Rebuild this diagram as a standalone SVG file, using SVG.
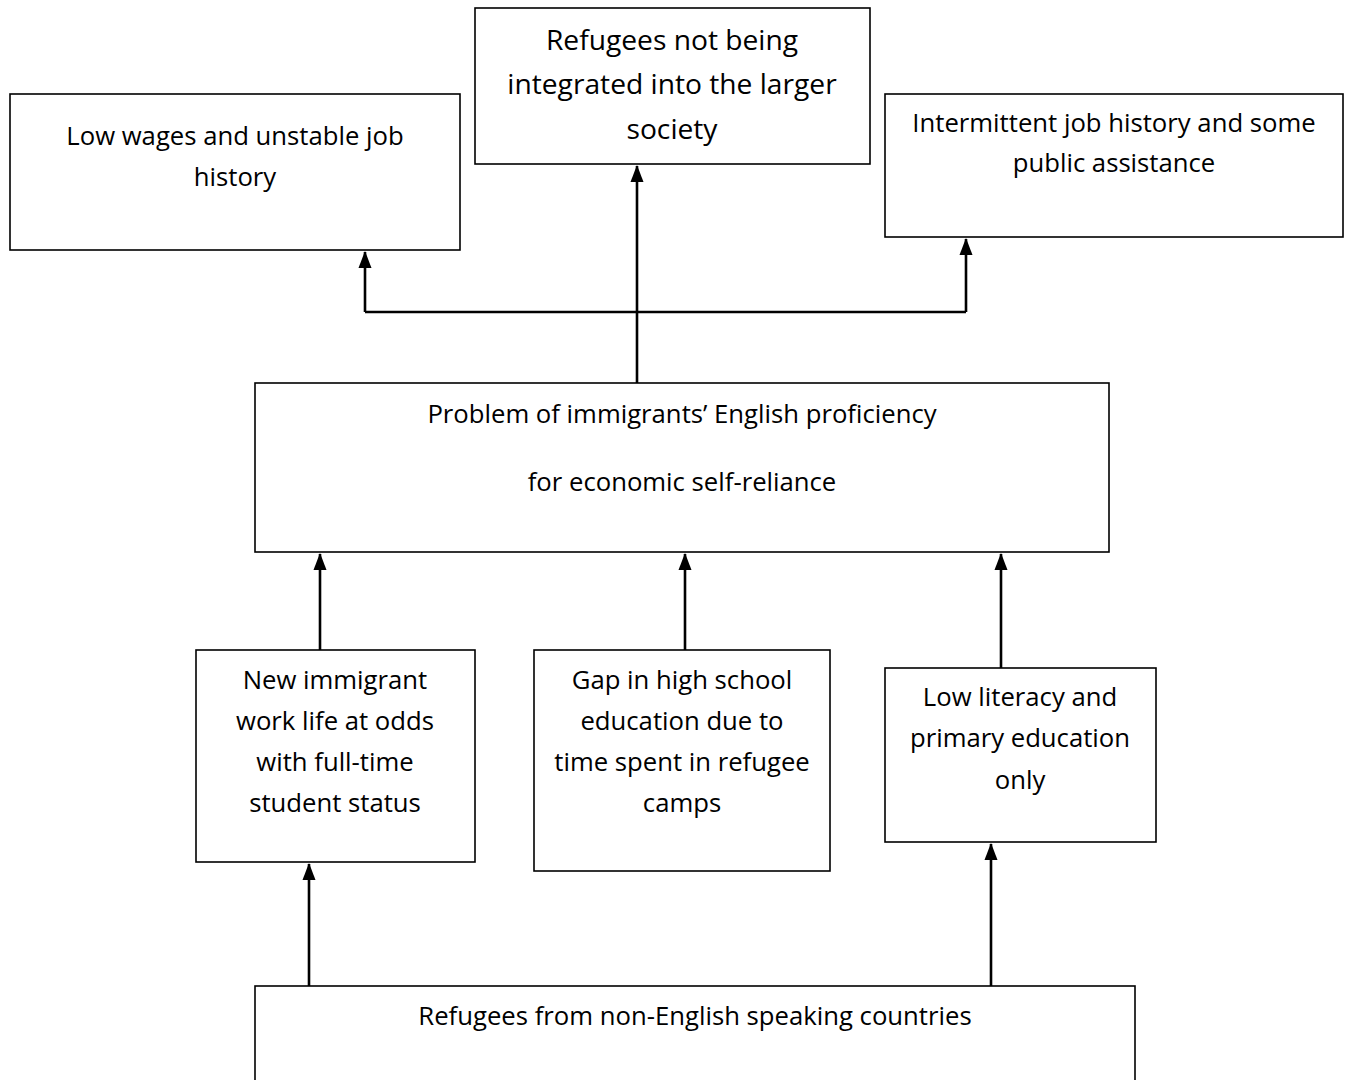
<svg xmlns="http://www.w3.org/2000/svg" width="1349" height="1080" viewBox="0 0 1349 1080">
<style>
.box{fill:#fff;stroke:#000;stroke-width:1.6}
.t{font-family:"Open Sans",Lato,sans-serif;font-size:25.7px;fill:#000;text-anchor:middle}
.big{font-size:28.2px}
.c{fill:none;stroke:#000;stroke-width:2.6}
</style>
<rect width="1349" height="1080" fill="#fff"/>
<g id="connectors">
<path class="c" d="M637 383 V166"/>
<path class="c" d="M365 312 H966"/>
<path class="c" d="M365 312 V252"/>
<path class="c" d="M966 312 V239"/>
<path class="c" d="M320 650 V554"/>
<path class="c" d="M685 650 V554"/>
<path class="c" d="M1001 668 V554"/>
<path class="c" d="M309 986 V864"/>
<path class="c" d="M991 986 V844"/>
<g fill="#000">
<path d="M637 165 L643.5 182 L630.5 182 Z"/>
<path d="M365 251 L371.5 268 L358.5 268 Z"/>
<path d="M966 238 L972.5 255 L959.5 255 Z"/>
<path d="M320 553 L326.5 570 L313.5 570 Z"/>
<path d="M685 553 L691.5 570 L678.5 570 Z"/>
<path d="M1001 553 L1007.5 570 L994.5 570 Z"/>
<path d="M309 863 L315.5 880 L302.5 880 Z"/>
<path d="M991 843 L997.5 860 L984.5 860 Z"/>
</g>
</g>
<g id="n-lowwages">
<rect class="box" x="10" y="94" width="450" height="156"/>
<text class="t" x="235" y="145">Low wages and unstable job</text>
<text class="t" x="235" y="186">history</text>
</g>
<g id="n-notintegrated">
<rect class="box" x="475" y="8" width="395" height="156"/>
<text class="t big" x="672" y="50">Refugees not being</text>
<text class="t big" x="672" y="94">integrated into the larger</text>
<text class="t big" x="672" y="139">society</text>
</g>
<g id="n-intermittent">
<rect class="box" x="885" y="94" width="458" height="143"/>
<text class="t" x="1114" y="132">Intermittent job history and some</text>
<text class="t" x="1114" y="172">public assistance</text>
</g>
<g id="n-problem">
<rect class="box" x="255" y="383" width="854" height="169"/>
<text class="t" x="682" y="423">Problem of immigrants’ English proficiency</text>
<text class="t" x="682" y="491">for economic self-reliance</text>
</g>
<g id="n-newimmigrant">
<rect class="box" x="196" y="650" width="279" height="212"/>
<text class="t" x="335" y="689">New immigrant</text>
<text class="t" x="335" y="730">work life at odds</text>
<text class="t" x="335" y="771">with full-time</text>
<text class="t" x="335" y="812">student status</text>
</g>
<g id="n-gap">
<rect class="box" x="534" y="650" width="296" height="221"/>
<text class="t" x="682" y="689">Gap in high school</text>
<text class="t" x="682" y="730">education due to</text>
<text class="t" x="682" y="771">time spent in refugee</text>
<text class="t" x="682" y="812">camps</text>
</g>
<g id="n-lowliteracy">
<rect class="box" x="885" y="668" width="271" height="174"/>
<text class="t" x="1020" y="706">Low literacy and</text>
<text class="t" x="1020" y="747">primary education</text>
<text class="t" x="1020" y="789">only</text>
</g>
<g id="n-refugees">
<rect class="box" x="255" y="986" width="880" height="110"/>
<text class="t" x="695" y="1025">Refugees from non-English speaking countries</text>
</g>
</svg>
